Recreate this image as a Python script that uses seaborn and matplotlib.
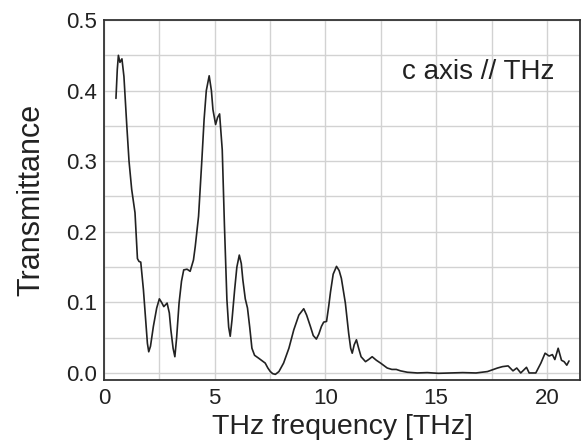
import matplotlib
matplotlib.use("Agg")
import matplotlib.pyplot as plt
from matplotlib.ticker import MultipleLocator
import seaborn as sns
import pandas as pd

# ---- Data ----
freq_thz = [0.54, 0.60, 0.65, 0.72, 0.81, 0.90, 1.03, 1.13, 1.25, 1.40, 1.51, 1.58,
            1.66, 1.78, 1.89, 1.96, 2.02, 2.10, 2.23, 2.38, 2.50, 2.60, 2.70, 2.85,
            2.95, 3.02, 3.12, 3.20, 3.28, 3.39, 3.50, 3.60, 3.75, 3.89, 4.04, 4.12,
            4.27, 4.42, 4.52, 4.62, 4.75, 4.85, 4.92, 5.04, 5.13, 5.22, 5.34, 5.44,
            5.55, 5.63, 5.70, 5.78, 5.90, 6.00, 6.11, 6.20, 6.27, 6.38, 6.48, 6.58,
            6.68, 6.80, 6.98, 7.15, 7.28, 7.40, 7.51, 7.62, 7.74, 7.90, 8.11, 8.35,
            8.57, 8.80, 9.02, 9.15, 9.32, 9.45, 9.59, 9.70, 9.82, 9.92, 10.05, 10.15,
            10.23, 10.35, 10.50, 10.62, 10.72, 10.90, 11.05, 11.14, 11.21, 11.30, 11.40,
            11.50, 11.61, 11.81, 11.95, 12.11, 12.30, 12.49, 12.79, 13.00, 13.20, 13.39,
            13.70, 14.15, 14.60, 15.10, 15.66, 16.20, 16.80, 17.32, 17.77, 18.00, 18.25,
            18.47, 18.64, 18.82, 19.08, 19.20, 19.50, 19.73, 19.92, 20.10, 20.25, 20.36,
            20.51, 20.66, 20.78, 20.90, 21.00]

transmittance = [0.389, 0.430, 0.450, 0.440, 0.445, 0.420, 0.350, 0.300, 0.260, 0.227, 0.162, 0.158,
                 0.157, 0.118, 0.071, 0.042, 0.030, 0.038, 0.066, 0.092, 0.105, 0.100, 0.094, 0.099,
                 0.085, 0.061, 0.035, 0.023, 0.050, 0.099, 0.130, 0.146, 0.147, 0.144, 0.160, 0.179,
                 0.222, 0.302, 0.359, 0.400, 0.421, 0.400, 0.373, 0.352, 0.362, 0.367, 0.316, 0.208,
                 0.104, 0.065, 0.052, 0.075, 0.118, 0.150, 0.167, 0.155, 0.132, 0.105, 0.092, 0.065,
                 0.035, 0.025, 0.021, 0.017, 0.014, 0.007, 0.002, -0.001, -0.002, 0.002, 0.014, 0.035,
                 0.061, 0.082, 0.091, 0.082, 0.066, 0.053, 0.048, 0.055, 0.066, 0.072, 0.073, 0.095,
                 0.115, 0.140, 0.151, 0.145, 0.134, 0.099, 0.056, 0.035, 0.028, 0.040, 0.047,
                 0.035, 0.023, 0.016, 0.019, 0.023, 0.018, 0.014, 0.007, 0.005, 0.005, 0.003,
                 0.001, 0.000, 0.0005, -0.0005, 0.000, 0.0005, 0.000, 0.002, 0.007, 0.009, 0.010,
                 0.003, 0.007, 0.000, 0.008, 0.000, 0.000, 0.014, 0.028, 0.024, 0.026, 0.019,
                 0.035, 0.018, 0.016, 0.011, 0.017]

y_ticks = [0.0, 0.1, 0.2, 0.3, 0.4, 0.5]
y_ticklabels = ["0.0", "0.1", "0.2", "0.3", "0.4", "0.5"]

df = pd.DataFrame({"freq": freq_thz, "trans": transmittance})

sns.set_style("white")
plt.rcParams['font.family'] = ['Liberation Sans', 'DejaVu Sans']

fig = plt.figure(figsize=(5.82, 4.44), dpi=100)
ax = fig.add_axes([0.1787, 0.1441, 0.818, 0.8108])

sns.lineplot(data=df, x="freq", y="trans", sort=False, estimator=None,
             color="#222222", linewidth=1.2, ax=ax)

ax.set_xlim(0, 21.5)
ax.set_ylim(-0.01, 0.5)
ax.xaxis.set_major_locator(MultipleLocator(5))
ax.xaxis.set_minor_locator(MultipleLocator(2.5))
ax.set_yticks(y_ticks)
ax.set_yticklabels(y_ticklabels)
ax.yaxis.set_minor_locator(MultipleLocator(0.05))

ax.grid(True, which='both', color="#d2d2d2", linewidth=1.0)
ax.set_axisbelow(True)
ax.tick_params(which='both', direction='in', length=4, width=1.0, color="#333333",
               labelsize=16, labelcolor="#222222")
ax.tick_params(axis='x', which='both', pad=6)
ax.tick_params(axis='y', which='both', pad=5)

for sp in ax.spines.values():
    sp.set_color("#333333")
    sp.set_linewidth(1.3)

ax.set_xlabel("THz frequency [THz]", fontsize=20.5, labelpad=3, color="#222222")
ax.set_ylabel("Transmittance", fontsize=22, labelpad=14, color="#222222")

ax.text(0.947, 0.855, "c axis // THz", transform=ax.transAxes, ha='right', va='center',
        fontsize=20, color="#222222")

fig.savefig("out.png", dpi=100)
